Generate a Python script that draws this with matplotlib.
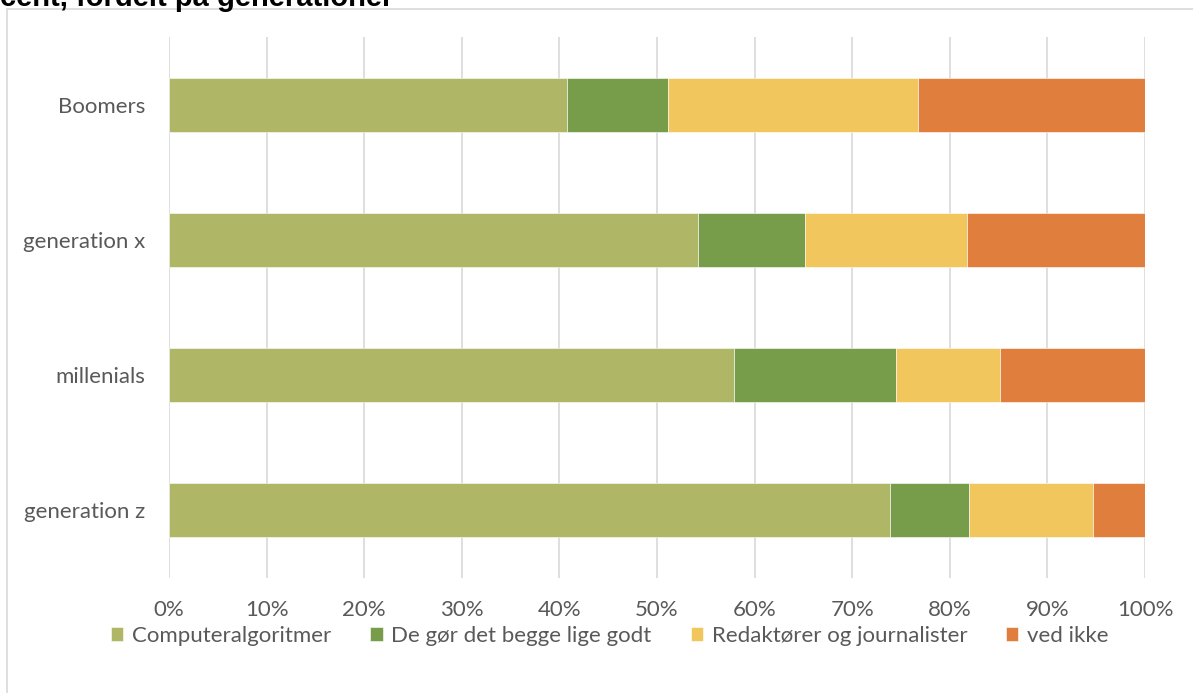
import matplotlib.pyplot as plt
from matplotlib.patches import Rectangle

# Data (percent of each generation)
generations = ['Boomers', 'generation x', 'millenials', 'generation z']
computeralgoritmer = [40.8, 54.2, 57.9, 73.9]
begge_lige_godt = [10.3, 11.0, 16.6, 8.1]
redaktoerer = [25.6, 16.6, 10.6, 12.7]
ved_ikke = [23.3, 18.2, 14.9, 5.3]

series = [
    ('Computeralgoritmer', computeralgoritmer, '#AFB767'),
    ('De gør det begge lige godt', begge_lige_godt, '#789D4A'),
    ('Redaktører og journalister', redaktoerer, '#F1C75D'),
    ('ved ikke', ved_ikke, '#E07F3D'),
]

plt.rcParams['font.family'] = ['Lato', 'DejaVu Sans']

fig = plt.figure(figsize=(11.93, 6.93), dpi=100)
ax = fig.add_axes([169 / 1193, 1 - 578 / 693, 976 / 1193, 541 / 693])

# chart area border (partly outside the picture)
fig.patches.append(Rectangle((7 / 1193, -0.1), 1.2, 1 - 9 / 693 + 0.1,
                             transform=fig.transFigure, fill=False,
                             edgecolor='#D9D9D9', linewidth=1.2))

ypos = list(range(len(generations)))[::-1]
left = [0.0] * len(generations)
for name, vals, col in series:
    ax.barh(ypos, vals, left=left, height=0.4, color=col, label=name,
            edgecolor='white', linewidth=0.4)
    left = [l + v for l, v in zip(left, vals)]

ax.set_xlim(0, 100)
ax.set_ylim(-0.5, 3.5)
ax.set_xticks(range(0, 101, 10))
ax.set_xticklabels([f'{t}%' for t in range(0, 101, 10)])
ax.set_yticks(ypos)
ax.set_yticklabels(generations)
ax.tick_params(axis='both', length=0, labelsize=16, colors='#595959')
ax.tick_params(axis='x', pad=16)
ax.tick_params(axis='y', pad=17)
ax.grid(axis='x', color='#D9D9D9', linewidth=1.2)
ax.set_axisbelow(True)
for s in ax.spines.values():
    s.set_visible(False)

fig.legend(loc='center', bbox_to_anchor=(610 / 1193, 1 - 636 / 693), ncol=4,
           frameon=False, fontsize=16, labelcolor='#595959',
           handlelength=0.55, handleheight=0.55, handletextpad=0.4,
           columnspacing=1.75)

fig.text(0.0, 1 - 6.5 / 693, 'cent, fordelt på generationer',
         fontsize=21, fontweight='bold', family='Liberation Sans',
         ha='left', va='baseline', color='black')

fig.savefig('out.png', dpi=100)
